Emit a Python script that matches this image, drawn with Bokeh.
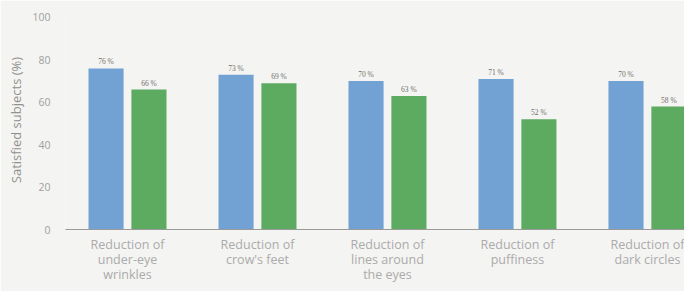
from bokeh.plotting import figure
from bokeh.models import ColumnDataSource, Range1d, FixedTicker, LabelSet
from bokeh.embed import file_html
from bokeh.resources import INLINE
from bokeh.transform import dodge

categories = [
    "Reduction of\nunder-eye\nwrinkles",
    "Reduction of\ncrow's feet",
    "Reduction of\nlines around\nthe eyes",
    "Reduction of\npuffiness",
    "Reduction of\ndark circles",
]
blue_values = [76, 73, 70, 71, 70]
green_values = [66, 69, 63, 52, 58]
y_ticks = [0, 20, 40, 60, 80, 100]

BG = "#f4f4f2"
BLUE = "#72a2d3"
GREEN = "#5daa61"

xs = list(range(len(categories)))
src = ColumnDataSource(dict(
    x=xs,
    blue=blue_values,
    green=green_values,
    blue_lbl=[f"{v} %" for v in blue_values],
    green_lbl=[f"{v} %" for v in green_values],
))

p = figure(width=684, height=291, output_backend="svg", toolbar_location=None,
           x_range=Range1d(-0.477, 4.285), y_range=Range1d(0, 103.3),
           min_border_left=65, min_border_right=0, min_border_top=10, min_border_bottom=62)
p.background_fill_color = BG
p.border_fill_color = BG
p.outline_line_color = None
p.grid.visible = False

bw = 0.27
off = 0.165
p.vbar(x=dodge("x", -off), top="blue", width=bw, source=src, color=BLUE, line_color=None)
p.vbar(x=dodge("x", off), top="green", width=bw, source=src, color=GREEN, line_color=None)

for col, o in (("blue", -off), ("green", off)):
    p.add_layout(LabelSet(x=dodge("x", o), y=col, text=col + "_lbl", source=src,
                          text_align="center", text_baseline="bottom", y_offset=2,
                          text_font_size="7.5px", text_color="#707070", text_font="Open Sans"))

xa = p.xaxis[0]
xa.ticker = FixedTicker(ticks=xs)
xa.major_label_overrides = {i: c for i, c in enumerate(categories)}
xa.axis_line_color = "#9a9a9a"
xa.major_tick_line_color = None
xa.minor_tick_line_color = None
xa.major_tick_out = 0
xa.major_tick_in = 0
xa.major_label_standoff = 6
xa.major_label_text_font = "Open Sans"
xa.major_label_text_font_size = "12.5px"
xa.major_label_text_line_height = 0.9
xa.major_label_text_color = "#ababab"

ya = p.yaxis[0]
ya.ticker = FixedTicker(ticks=y_ticks)
ya.axis_line_color = None
ya.major_tick_line_color = None
ya.minor_tick_line_color = None
ya.major_tick_out = 0
ya.major_tick_in = 0
ya.major_label_standoff = 15
ya.major_label_text_font = "Open Sans"
ya.major_label_text_font_size = "10.5px"
ya.major_label_text_color = "#a0a0a0"
ya.axis_label = "Satisfied subjects (%)"
ya.axis_label_standoff = 4
ya.axis_label_text_font = "Open Sans"
ya.axis_label_text_font_style = "normal"
ya.axis_label_text_font_size = "13px"
ya.axis_label_text_color = "#909090"

open("out.html", "w").write(file_html(p, INLINE))
